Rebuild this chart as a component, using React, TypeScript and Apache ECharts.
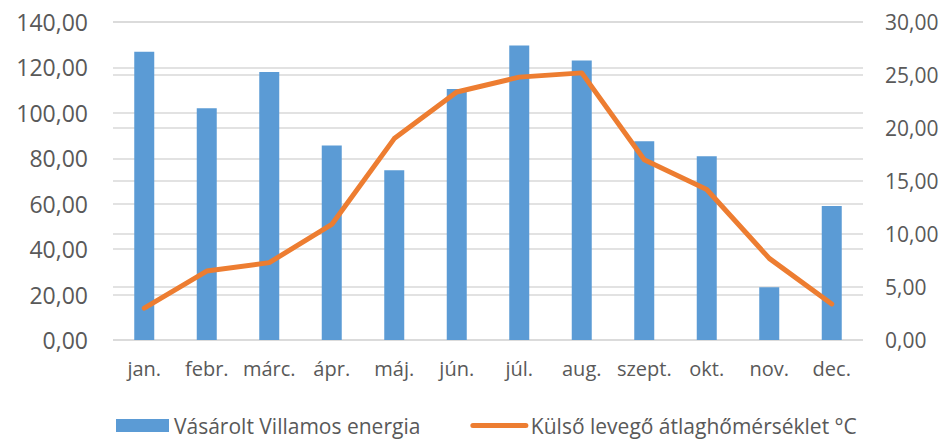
import React, { useEffect, useRef } from "react";
import * as echarts from "echarts";

const categories = ["jan.", "febr.", "márc.", "ápr.", "máj.", "jún.", "júl.", "aug.", "szept.", "okt.", "nov.", "dec."];
const energy = [126.9, 102.0, 118.0, 85.6, 74.7, 110.5, 129.6, 123.0, 87.5, 80.9, 23.2, 59.0];
const temperature = [3.0, 6.5, 7.3, 10.9, 19.0, 23.4, 24.8, 25.2, 17.0, 14.2, 7.7, 3.4];
const seriesNames = ["Vásárolt Villamos energia", "Külső levegő átlaghőmérséklet °C"];

const fmt = (v: number) => v.toFixed(2).replace(".", ",");

export default function App() {
  const ref = useRef<HTMLDivElement>(null);
  useEffect(() => {
    if (!ref.current) return;
    const chart = echarts.init(ref.current, null, { renderer: "svg" });
    const font = "'Open Sans', sans-serif";
    chart.setOption({
      animation: false,
      textStyle: { fontFamily: font },
      grid: { left: 113, right: 89, top: 22, bottom: 99 },
      legend: {
        left: 111,
        top: 410,
        itemWidth: 53,
        itemHeight: 13,
        itemGap: 50,
        textStyle: { fontFamily: font, fontSize: 21, color: "#595959" },
        data: [
          { name: seriesNames[0], icon: "rect" },
          { name: seriesNames[1], itemStyle: { opacity: 0 }, lineStyle: { width: 5, cap: "round", color: "#ED7D31" } },
        ],
      },
      xAxis: {
        type: "category",
        data: categories,
        axisLine: { show: false },
        axisTick: { show: false },
        axisLabel: { fontFamily: font, fontSize: 20, color: "#595959", margin: 18, interval: 0 },
      },
      yAxis: [
        {
          type: "value",
          min: 0,
          max: 140,
          interval: 20,
          axisLine: { show: false },
          axisTick: { show: false },
          splitLine: { lineStyle: { color: "#D9D9D9", width: 1.5 } },
          axisLabel: { fontFamily: font, fontSize: 23, color: "#595959", margin: 25, formatter: fmt },
        },
        {
          type: "value",
          min: 0,
          max: 30,
          interval: 5,
          axisLine: { show: false },
          axisTick: { show: false },
          splitLine: { lineStyle: { color: "#D9D9D9", width: 1.5 } },
          axisLabel: { fontFamily: font, fontSize: 21, color: "#595959", margin: 22, formatter: fmt },
        },
      ],
      series: [
        {
          name: seriesNames[0],
          type: "bar",
          data: energy,
          barWidth: 20,
          itemStyle: { color: "#5B9BD5" },
        },
        {
          name: seriesNames[1],
          type: "line",
          yAxisIndex: 1,
          data: temperature,
          symbol: "none",
          lineStyle: { color: "#ED7D31", width: 5, cap: "round", join: "round" },
          itemStyle: { color: "#ED7D31" },
        },
      ],
    });
    return () => chart.dispose();
  }, []);
  return <div ref={ref} style={{ position: "absolute", left: 0, top: 0, width: 952, height: 439 }} />;
}
